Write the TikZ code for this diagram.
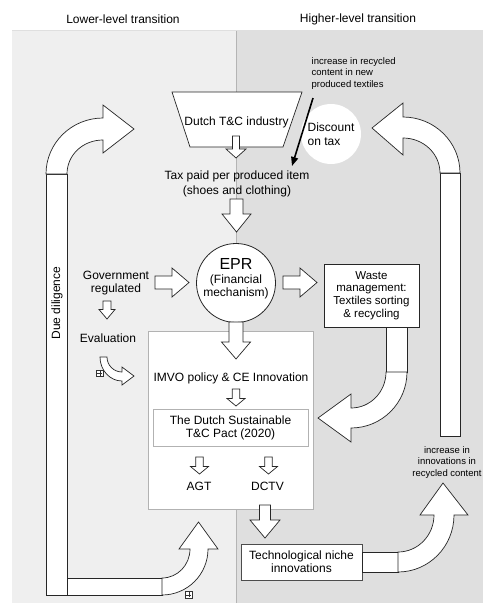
\documentclass[tikz,border=0pt]{standalone}
\usepackage{fontspec}
\setmainfont{Liberation Sans}
\usetikzlibrary{arrows.meta}

% block arrow pointing down: x, top, base of head, tip, shaft half width, head half width
\newcommand{\bdown}[6]{%
  \draw[blockarrow] (#1-#5,#2) -- (#1+#5,#2) -- (#1+#5,#3) -- (#1+#6,#3) -- (#1,#4)
    -- (#1-#6,#3) -- (#1-#5,#3) -- cycle;}
% block arrow pointing right: y, left, base of head, tip, shaft half width, head half width
\newcommand{\bright}[6]{%
  \draw[blockarrow] (#2,#1-#5) -- (#3,#1-#5) -- (#3,#1-#6) -- (#4,#1) -- (#3,#1+#6)
    -- (#3,#1+#5) -- (#2,#1+#5) -- cycle;}

\definecolor{leftbg}{HTML}{EFEFEF}
\definecolor{rightbg}{HTML}{DFDFDF}
\definecolor{sepgray}{HTML}{B4B4B4}

\tikzset{
  blockarrow/.style={draw=black!85, fill=white, line width=0.7pt, line join=miter},
  txt/.style={font=\fontsize{12}{13}\selectfont, align=center, inner sep=0pt},
  smalltxt/.style={font=\fontsize{9.5}{11.8}\selectfont, inner sep=0pt},
  plusbox/.style={draw=black!80, fill=white, line width=0.5pt, minimum size=6.5pt, inner sep=0pt},
}

\begin{document}
\begin{tikzpicture}[x=1pt,y=-1pt]
\useasboundingbox (0,0) rectangle (483,603);
\fill[white] (0,0) rectangle (483,603);

% two transition panels
\fill[leftbg] (12,30) rectangle (236,603);
\fill[rightbg] (236,30) rectangle (483,603);
\draw[sepgray, line width=0.6pt] (236,30) -- (236,603);
\draw[gray!25, line width=0.5pt] (12,30) -- (483,30);

\node[txt] (lowtitle) at (123,19) {Lower-level transition};
\node[txt] (hightitle) at (358,19) {Higher-level transition};

% industry (inverted trapezoid)
\draw[black!85, fill=white, line width=0.7pt] (172,92) -- (302,92) -- (283,147) -- (190,147) -- cycle;
\node[txt] (ind) at (236.5,122.5) {Dutch T\&C industry};

\bdown{236}{136}{149}{158}{3.5}{10}

\node[txt, font=\fontsize{12}{15}\selectfont] (tax) at (237,183.5) {Tax paid per produced item\\(shoes and clothing)};

% tax discount
\node[circle, fill=white, minimum size=60pt, inner sep=0pt, align=left,
      font=\fontsize{12}{14}\selectfont] (disc) at (331,134) {Discount\\on tax};
\node[smalltxt, anchor=north west, align=left] (recyc) at (311.5,57)
  {increase in recycled\\content in new\\produced textiles};
\coordinate (dstart) at (313,98);
\coordinate (dend) at (292,166);
\draw[line width=1.6pt, -{Triangle[length=9pt,width=7pt]}] (dstart) -- (dend);

\bdown{236.5}{199}{214}{232}{6.5}{14.5}

% EPR
\node[circle, draw=black!85, fill=white, line width=0.8pt, minimum size=79pt] (epr) at (236,283) {};
\node[txt, font=\fontsize{16}{18}\selectfont] (eprt) at (236,264) {EPR};
\node[txt] (fin) at (236,286.5) {(Financial\\mechanism)};

\node[txt] (gov) at (116,283.5) {Government\\regulated};
\bright{282.5}{155}{172}{189}{6.5}{14.5}
\bright{282.5}{283}{300}{317}{6.5}{14.5}

\node[draw=black!85, fill=white, line width=0.8pt, minimum width=95pt, minimum height=63pt,
      txt, font=\fontsize{11.5}{12.7}\selectfont] (waste) at (371.5,295.5)
  {Waste\\management:\\Textiles sorting\\\& recycling};

\bdown{107}{301}{309.5}{319}{4}{8}
\node[txt] (eval) at (108,338) {Evaluation};

% evaluation feedback arrow
\draw[blockarrow] (107,357) .. controls (107,365.3) and (113.7,372) .. (122,372)
  -- (122,367) -- (134,376) -- (122,385) -- (122,381)
  .. controls (109.9,381) and (100,370.2) .. (100,357) -- cycle;
\node[plusbox] (plusA) at (99.8,373.2) {};
\draw[black!80, line width=0.5pt, shorten <=1pt, shorten >=1pt] (plusA.west) -- (plusA.east);
\draw[black!80, line width=0.5pt, shorten <=1pt, shorten >=1pt] (plusA.north) -- (plusA.south);

% policy box
\node[draw=gray!60, fill=white, line width=0.6pt, minimum width=165pt, minimum height=178pt] (imvo) at (230.5,420) {};
\bdown{236}{322}{342}{359}{7}{14.5}
\node[txt] (imvot) at (231,378) {IMVO policy \& CE Innovation};
\bdown{236}{389}{398.5}{406}{3.8}{9}
\node[draw=gray!60, fill=white, line width=0.6pt, minimum width=155pt, minimum height=37pt, txt]
  (pact) at (230.5,427.5) {The Dutch Sustainable\\T\&C Pact (2020)};
\bdown{199.5}{457}{466.5}{474}{3.8}{9}
\bdown{268.5}{457}{466.5}{474}{3.8}{9}
\node[txt] (agt) at (199,486) {AGT};
\node[txt] (dctv) at (267.5,486) {DCTV};

\bdown{265}{505}{520}{538}{5.5}{15}
\node[draw=black!70, fill=white, line width=0.8pt, minimum width=121pt, minimum height=36pt, txt]
  (tech) at (301.5,562) {Technological niche\\innovations};

% niche innovations feed back upwards
\draw[blockarrow] (tech.east |- 0,552) rectangle (398,572);
\draw[blockarrow] (398,552) .. controls (417.9,552) and (434,535.4) .. (434,515)
  -- (420,515) -- (443,483) -- (468,515) -- (454,515)
  .. controls (454,546.5) and (428.9,572) .. (398,572) -- cycle;
\node[smalltxt, align=center] (innov) at (447,462.5)
  {increase in\\innovations in\\recycled content};

% waste management feeds the pact
\draw[blockarrow] (386,327) rectangle (407,372);
\draw[blockarrow] (407,372) .. controls (407,402.9) and (381.9,428) .. (351,428)
  -- (351,442) -- (318,418) -- (351,394) -- (351,408)
  .. controls (370.3,408) and (386,391.9) .. (386,372) -- cycle;

% due diligence loop (left)
\draw[blockarrow] (46,174) rectangle (67,595);
\draw[blockarrow] (67,578) rectangle (162,595);
\draw[blockarrow] (46,174) .. controls (46,143.1) and (71.5,118) .. (103,118)
  -- (103,105) -- (134,129) -- (103,153) -- (103,140)
  .. controls (82.6,140) and (67,155.2) .. (67,174) -- cycle;
\draw[blockarrow] (162,578) .. controls (177.5,578) and (190,565) .. (190,549)
  -- (179,549) -- (198.5,522) -- (218,549) -- (208,549)
  .. controls (208,574.4) and (187.4,595) .. (162,595) -- cycle;
\node[txt, rotate=90] (due) at (57,303) {Due diligence};
\node[plusbox] (plusB) at (188.8,594.8) {};
\draw[black!80, line width=0.5pt, shorten <=1pt, shorten >=1pt] (plusB.west) -- (plusB.east);
\draw[black!80, line width=0.5pt, shorten <=1pt, shorten >=1pt] (plusB.north) -- (plusB.south);

% recycled content loop (right)
\draw[blockarrow] (440,173) rectangle (460,436);
\draw[blockarrow] (460,173) .. controls (460,142.1) and (434.5,117) .. (403,117)
  -- (403,103) -- (372,128) -- (403,155) -- (403,138)
  .. controls (423.4,138) and (440,153.7) .. (440,173) -- cycle;
\end{tikzpicture}
\end{document}
